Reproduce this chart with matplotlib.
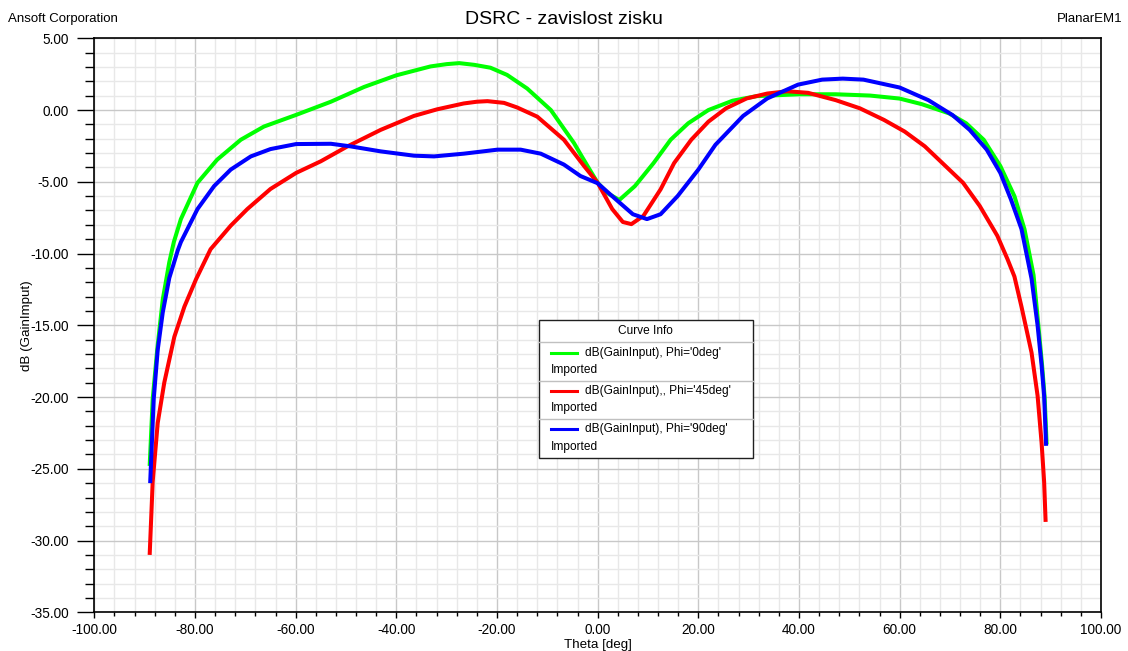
import matplotlib
matplotlib.use("Agg")
import matplotlib.pyplot as plt
from matplotlib.lines import Line2D
from matplotlib.patches import Rectangle
from matplotlib.ticker import MultipleLocator, FormatStrFormatter

plt.rcParams['font.family'] = ['Liberation Sans', 'DejaVu Sans']

# Gain vs theta, three phi cuts
theta_0 = [-89.0, -88.4, -87.5, -86.4, -85.1, -84.2, -82.8, -79.5, -75.6, -70.9,
           -66.3, -60.0, -53.0, -46.4, -40.0, -33.2, -30.0, -27.5, -24.5, -21.3,
           -18.0, -14.0, -9.3, -4.7, -3.2, -1.5, 0.0, 2.0, 4.3, 7.4,
           11.1, 14.5, 18.0, 22.0, 26.8, 31.6, 40.0, 47.3, 54.1, 60.0,
           64.4, 69.8, 73.2, 76.7, 80.0, 82.8, 84.8, 86.6, 87.5, 88.3,
           88.8, 89.2]
gain_0 = [-24.8, -20.15, -16.7, -13.2, -10.6, -9.2, -7.6, -5.07, -3.46, -2.07,
          -1.15, -0.35, 0.58, 1.61, 2.42, 3.04, 3.2, 3.27, 3.15, 2.95,
          2.45, 1.5, 0.0, -2.3, -3.2, -4.2, -5.07, -5.8, -6.27, -5.3,
          -3.7, -2.07, -0.92, 0.0, 0.65, 0.97, 1.1, 1.1, 1.01, 0.8,
          0.41, -0.23, -0.92, -2.07, -3.9, -6.0, -8.3, -11.5, -14.8, -17.8,
          -20.0, -23.3]

theta_45 = [-89.0, -88.4, -87.4, -86.1, -84.1, -82.1, -79.8, -76.9, -72.9, -69.6,
            -65.0, -59.9, -55.0, -49.7, -43.1, -36.5, -31.9, -26.6, -24.0, -21.9,
            -18.6, -16.0, -12.0, -6.7, -2.7, 0.0, 2.9, 5.0, 6.7, 9.1,
            12.5, 15.2, 18.6, 22.0, 25.5, 29.6, 33.7, 37.7, 41.8, 47.3,
            52.1, 56.9, 61.0, 65.0, 69.1, 72.6, 75.9, 79.4, 81.4, 82.8,
            84.2, 86.2, 87.4, 88.2, 88.7, 89.0]
gain_45 = [-31.0, -25.9, -21.8, -19.0, -15.8, -13.7, -11.8, -9.7, -8.06, -6.9,
           -5.5, -4.38, -3.57, -2.53, -1.38, -0.41, 0.05, 0.46, 0.58, 0.62,
           0.5, 0.18, -0.46, -2.07, -3.9, -5.07, -6.9, -7.8, -7.95, -7.37,
           -5.53, -3.69, -2.07, -0.81, 0.12, 0.81, 1.15, 1.31, 1.2, 0.69,
           0.12, -0.69, -1.5, -2.53, -3.9, -5.07, -6.68, -8.76, -10.37, -11.6,
           -13.7, -16.9, -19.9, -23.2, -25.9, -28.7]

theta_90 = [-88.9, -88.2, -87.4, -86.4, -85.1, -83.4, -82.8, -79.5, -76.2, -72.9,
            -68.9, -65.0, -59.9, -53.0, -49.1, -43.1, -36.5, -32.5, -26.6, -19.9,
            -15.3, -11.3, -6.7, -3.4, 0.0, 3.6, 7.0, 9.8, 12.5, 15.9,
            20.0, 23.4, 28.9, 33.7, 39.8, 44.6, 48.7, 52.8, 60.0, 65.7,
            70.5, 73.9, 77.3, 80.0, 82.1, 84.2, 86.2, 87.4, 88.2, 88.7, 89.1]
gain_90 = [-26.0, -20.15, -16.7, -14.1, -11.7, -9.76, -9.2, -6.9, -5.3, -4.15,
           -3.23, -2.72, -2.37, -2.35, -2.53, -2.88, -3.18, -3.23, -3.04, -2.76,
           -2.76, -3.04, -3.8, -4.6, -5.1, -6.22, -7.26, -7.6, -7.26, -5.99,
           -4.15, -2.42, -0.41, 0.81, 1.77, 2.12, 2.19, 2.12, 1.57, 0.69,
           -0.35, -1.38, -2.76, -4.38, -6.22, -8.29, -11.75, -15.0, -17.8, -19.9, -23.4]

labels = ["dB(GainInput), Phi='0deg'", "dB(GainInput),, Phi='45deg'", "dB(GainInput), Phi='90deg'"]
colors = ["#00ff00", "#ff0000", "#0000ff"]

W, H = 1128, 651
fig = plt.figure(figsize=(W / 100, H / 100), dpi=100)
ax = fig.add_axes([94.3 / W, 1 - 612.3 / H, (1101 - 94.3) / W, (612.3 - 38.3) / H])

for th, g, c in zip([theta_0, theta_45, theta_90], [gain_0, gain_45, gain_90], colors):
    ax.plot(th, g, color=c, lw=2.9, solid_capstyle='butt', zorder=3)

ax.set_xlim(-100, 100)
ax.set_ylim(-35, 5)
ax.xaxis.set_major_locator(MultipleLocator(20))
ax.xaxis.set_minor_locator(MultipleLocator(4))
ax.yaxis.set_major_locator(MultipleLocator(5))
ax.yaxis.set_minor_locator(MultipleLocator(1))
ax.xaxis.set_major_formatter(FormatStrFormatter('%.2f'))
ax.yaxis.set_major_formatter(FormatStrFormatter('%.2f'))

ax.grid(which='major', color='#c8c8c8', lw=1.0, zorder=0)
ax.grid(which='minor', color='#e8e8e8', lw=1.0, zorder=0)
ax.set_axisbelow(True)

ax.tick_params(axis='y', which='major', direction='out', length=12.5, width=1, labelsize=9.8, pad=6)
ax.tick_params(axis='y', which='minor', direction='out', length=6.5, width=1)
ax.tick_params(axis='x', which='major', direction='out', length=4.5, width=1, labelsize=9.8, pad=3.5)
ax.tick_params(axis='x', which='minor', direction='out', length=3.2, width=1)
for s in ax.spines.values():
    s.set_color('black')
    s.set_linewidth(1.2)

ax.set_xlabel("Theta [deg]", fontsize=9.6, labelpad=1.5)
ax.set_ylabel("dB (GainImput)", fontsize=9.6, labelpad=-2)

fig.text(8 / W, 1 - 19 / H, "Ansoft Corporation", fontsize=9.5, va='center', ha='left')
fig.text(1123 / W, 1 - 19 / H, "PlanarEM1", fontsize=9.5, va='center', ha='right')
fig.text(564 / W, 1 - 20 / H, "DSRC - zavislost zisku", fontsize=14, va='center', ha='center')


# legend box drawn in pixel positions
def fx(px):
    return px / W


def fy(py):
    return 1 - py / H


lx0, lx1, ly0, ly1 = 539, 753, 320, 458
fig.add_artist(Rectangle((fx(lx0), fy(ly1)), fx(lx1) - fx(lx0), fy(ly0) - fy(ly1),
                         transform=fig.transFigure, facecolor='white',
                         edgecolor='#202020', lw=1.0, zorder=5))
fig.text(fx(645), fy(331), "Curve Info", fontsize=8.6, ha='center', va='center', zorder=6)
for sep in [342.3, 380.7, 419.3]:
    fig.add_artist(Line2D([fx(lx0), fx(lx1)], [fy(sep), fy(sep)], transform=fig.transFigure,
                          color='#c0c0c0', lw=1.0, zorder=6))
row_y = [352.7, 391.0, 429.3]
for ry, lab, c in zip(row_y, labels, colors):
    fig.add_artist(Line2D([fx(550.7), fx(576.7)], [fy(ry), fy(ry)], transform=fig.transFigure,
                          color=c, lw=2.2, zorder=6))
    fig.text(fx(585), fy(ry), lab, fontsize=8.6, ha='left', va='center', zorder=6)
    fig.text(fx(550.7), fy(ry + 17.5), "Imported", fontsize=8.6, ha='left', va='center', zorder=6)

fig.savefig("out.png", dpi=100, facecolor='white')
